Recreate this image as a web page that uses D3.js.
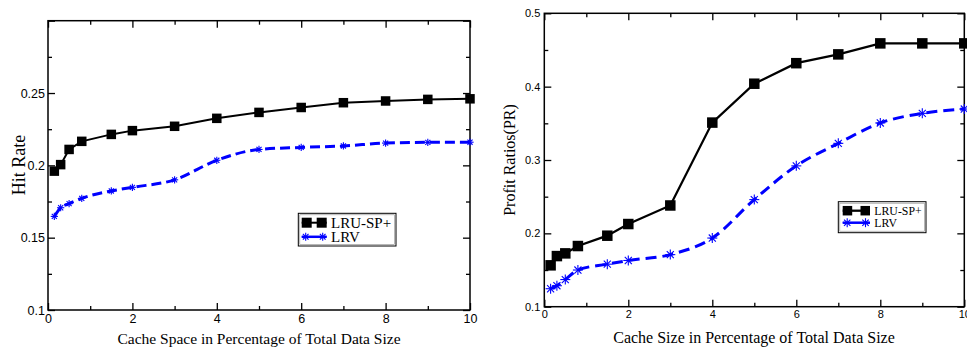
<!DOCTYPE html>
<html>
<head>
<meta charset="utf-8">
<script src="https://cdn.jsdelivr.net/npm/d3@7"></script>
<style>
  body { margin: 0; background: #fff; }
  svg { display: block; }
  .tick text { font-family: "Liberation Sans", Arial, sans-serif; fill: #000; }
  .axis path { display: none; }
  .axis line { stroke: #000; stroke-width: 1.3; }
  .title { font-family: "Liberation Serif", "Times New Roman", serif; fill: #000; }
</style>
</head>
<body>
<svg id="chart" width="967" height="347"></svg>
<script>
// cache size (% of total data size), shared by both panels
var xValues = [0.15, 0.3, 0.5, 0.8, 1.5, 2, 3, 4, 5, 6, 7, 8, 9, 10];

// left panel: hit rate
var hitLRUSP = [0.196, 0.2005, 0.211, 0.2166, 0.2214, 0.224, 0.227, 0.2325, 0.2366, 0.240, 0.2433, 0.2445, 0.2456, 0.246];
var hitLRV   = [0.1647, 0.1707, 0.1735, 0.1772, 0.1823, 0.1848, 0.190, 0.2035, 0.211, 0.2124, 0.2134, 0.2154, 0.2159, 0.216];

// right panel: profit ratio
var prLRUSP = [0.1564, 0.169, 0.1727, 0.1827, 0.1968, 0.2127, 0.238, 0.351, 0.404, 0.432, 0.444, 0.459, 0.459, 0.459];
var prLRV   = [0.1245, 0.1286, 0.137, 0.150, 0.158, 0.163, 0.171, 0.1936, 0.246, 0.292, 0.3227, 0.3505, 0.3636, 0.3695];

var seriesNames = ['LRU-SP+', 'LRV'];

var xMajor = [0, 2, 4, 6, 8, 10];
var xMinor = [1, 3, 5, 7, 9];
var hitMajor = [0.1, 0.15, 0.2, 0.25, 0.3];
var hitMinor = [0.125, 0.175, 0.225, 0.275];
var hitLabels = [0.1, 0.15, 0.2, 0.25];
var prMajor = [0.1, 0.2, 0.3, 0.4, 0.5];
var prMinor = [0.15, 0.25, 0.35, 0.45];

(function () {
    var svg = d3.select('#chart');

    function zip(xs, ys) {
        return xs.map(function (x, i) { return {x: x, y: ys[i]}; });
    }

    function drawStar(g, cx, cy, r, w) {
        var d = r * Math.SQRT1_2;
        var segs = [[-r, 0, r, 0], [0, -r, 0, r], [-d, -d, d, d], [-d, d, d, -d]];
        segs.forEach(function (s) {
            g.append('line')
                .attr('x1', cx + s[0]).attr('y1', cy + s[1])
                .attr('x2', cx + s[2]).attr('y2', cy + s[3])
                .attr('stroke', '#0000ff').attr('stroke-width', w);
        });
    }

    function panel(o) {
        var x = d3.scaleLinear().domain([0, 10]).range([o.left, o.right]);
        var y = d3.scaleLinear().domain(o.yDomain).range([o.bottom, o.top]);
        var g = svg.append('g');
        var fmt = function (d) { return o.yLabels.indexOf(d) >= 0 ? d3.format('')(d) : ''; };

        // inward ticks on all four sides
        g.append('g').attr('class', 'axis').attr('transform', 'translate(0,' + o.bottom + ')')
            .call(d3.axisBottom(x).tickValues(xMajor).tickSize(-7).tickPadding(o.xPad).tickFormat(d3.format('')))
            .selectAll('text').style('font-size', o.tickFont + 'px');
        g.append('g').attr('class', 'axis').attr('transform', 'translate(0,' + o.bottom + ')')
            .call(d3.axisBottom(x).tickValues(xMinor).tickSize(-4).tickFormat(''));
        g.append('g').attr('class', 'axis').attr('transform', 'translate(0,' + o.top + ')')
            .call(d3.axisTop(x).tickValues(xMajor).tickSize(-7).tickFormat(''));
        g.append('g').attr('class', 'axis').attr('transform', 'translate(0,' + o.top + ')')
            .call(d3.axisTop(x).tickValues(xMinor).tickSize(-4).tickFormat(''));
        g.append('g').attr('class', 'axis').attr('transform', 'translate(' + o.left + ',0)')
            .call(d3.axisLeft(y).tickValues(o.yMajor).tickSize(-7).tickPadding(o.yPad).tickFormat(fmt))
            .selectAll('text').style('font-size', o.tickFont + 'px');
        g.append('g').attr('class', 'axis').attr('transform', 'translate(' + o.left + ',0)')
            .call(d3.axisLeft(y).tickValues(o.yMinor).tickSize(-4).tickFormat(''));
        g.append('g').attr('class', 'axis').attr('transform', 'translate(' + o.right + ',0)')
            .call(d3.axisRight(y).tickValues(o.yMajor).tickSize(-7).tickFormat(''));
        g.append('g').attr('class', 'axis').attr('transform', 'translate(' + o.right + ',0)')
            .call(d3.axisRight(y).tickValues(o.yMinor).tickSize(-4).tickFormat(''));

        g.append('rect')
            .attr('x', o.left).attr('y', o.top)
            .attr('width', o.right - o.left).attr('height', o.bottom - o.top)
            .attr('fill', 'none').attr('stroke', '#000').attr('stroke-width', 1.5);

        var black = zip(xValues, o.black);
        var blue = zip(xValues, o.blue);

        g.append('path').datum(blue)
            .attr('d', d3.line().x(function (d) { return x(d.x); }).y(function (d) { return y(d.y); })
                .curve(d3.curveMonotoneX))
            .attr('fill', 'none').attr('stroke', '#0000ff')
            .attr('stroke-width', o.blueWidth).attr('stroke-dasharray', o.dash);
        blue.forEach(function (d) { drawStar(g, x(d.x), y(d.y), o.star, 1.1); });

        g.append('path').datum(black)
            .attr('d', d3.line().x(function (d) { return x(d.x); }).y(function (d) { return y(d.y); }))
            .attr('fill', 'none').attr('stroke', '#000').attr('stroke-width', o.blackWidth);
        g.selectAll('rect.sq').data(black).enter().append('rect').attr('class', 'sq')
            .attr('x', function (d) { return x(d.x) - o.sq / 2; })
            .attr('y', function (d) { return y(d.y) - o.sq / 2; })
            .attr('width', o.sq).attr('height', o.sq).attr('fill', '#000');

        // axis titles
        g.append('text').attr('class', 'title')
            .attr('x', o.xTitle[0]).attr('y', o.xTitle[1])
            .attr('text-anchor', 'middle').style('font-size', o.xTitleFont + 'px')
            .text(o.xLabel);
        g.append('text').attr('class', 'title')
            .attr('transform', 'translate(' + o.yTitle[0] + ',' + o.yTitle[1] + ') rotate(-90)')
            .attr('text-anchor', 'middle').style('font-size', o.yTitleFont + 'px')
            .text(o.yLabel);

        // legend
        var L = o.legend;
        g.append('rect').attr('x', L.x).attr('y', L.y).attr('width', L.w).attr('height', L.h)
            .attr('fill', '#fff').attr('stroke', '#000').attr('stroke-width', 1);
        g.append('rect').attr('x', L.x + 1.5).attr('y', L.y + 1.5).attr('width', L.w - 3).attr('height', L.h - 3)
            .attr('fill', 'none').attr('stroke', '#888').attr('stroke-width', 0.6);
        var x0 = L.x + L.sample[0], x1 = L.x + L.sample[1];
        var r1 = L.y + L.rows[0], r2 = L.y + L.rows[1];
        g.append('line').attr('x1', x0).attr('x2', x1).attr('y1', r1).attr('y2', r1)
            .attr('stroke', '#000').attr('stroke-width', o.blackWidth);
        [x0 + L.sq / 2, x1 - L.sq / 2].forEach(function (cx) {
            g.append('rect').attr('x', cx - L.sq / 2).attr('y', r1 - L.sq / 2)
                .attr('width', L.sq).attr('height', L.sq).attr('fill', '#000');
        });
        g.append('line').attr('x1', x0).attr('x2', x1).attr('y1', r2).attr('y2', r2)
            .attr('stroke', '#0000ff').attr('stroke-width', o.blueWidth - 0.5);
        [x0 + L.star, x1 - L.star].forEach(function (cx) { drawStar(g, cx, r2, L.star, 1.1); });
        [r1, r2].forEach(function (ry, i) {
            g.append('text').attr('class', 'title')
                .attr('x', L.x + L.text).attr('y', ry).attr('dy', '0.35em')
                .style('font-size', L.font + 'px')
                .text(seriesNames[i]);
        });
    }

    panel({
        left: 48, right: 470, top: 20.7, bottom: 310,
        yDomain: [0.1, 0.3], yMajor: hitMajor, yMinor: hitMinor, yLabels: hitLabels,
        black: hitLRUSP, blue: hitLRV,
        tickFont: 12.5, xPad: 4, yPad: 3,
        blackWidth: 2, blueWidth: 3, dash: '10,5', sq: 9.5, star: 3.6,
        xLabel: 'Cache Space in Percentage of Total Data Size', xTitle: [259, 344], xTitleFont: 15.5,
        yLabel: 'Hit Rate', yTitle: [25, 165], yTitleFont: 18,
        legend: {x: 298.3, y: 213.3, w: 97.7, h: 32.7, sample: [3.4, 28.4], rows: [9.4, 23.5],
                 text: 32.7, font: 15, sq: 10, star: 4}
    });

    panel({
        left: 544.3, right: 964.3, top: 13.3, bottom: 306.7,
        yDomain: [0.1, 0.5], yMajor: prMajor, yMinor: prMinor, yLabels: prMajor,
        black: prLRUSP, blue: prLRV,
        tickFont: 11, xPad: 4, yPad: 4,
        blackWidth: 2.3, blueWidth: 3, dash: '11,6', sq: 10.5, star: 5,
        xLabel: 'Cache Size in Percentage of Total Data Size', xTitle: [754, 343], xTitleFont: 16,
        yLabel: 'Profit Ratios(PR)', yTitle: [515, 160], yTitleFont: 16,
        legend: {x: 838.3, y: 201.7, w: 87.7, h: 31, sample: [4.4, 31.7], rows: [9, 21],
                 text: 36, font: 11.8, sq: 9.5, star: 4.5}
    });
}());
</script>
</body>
</html>
